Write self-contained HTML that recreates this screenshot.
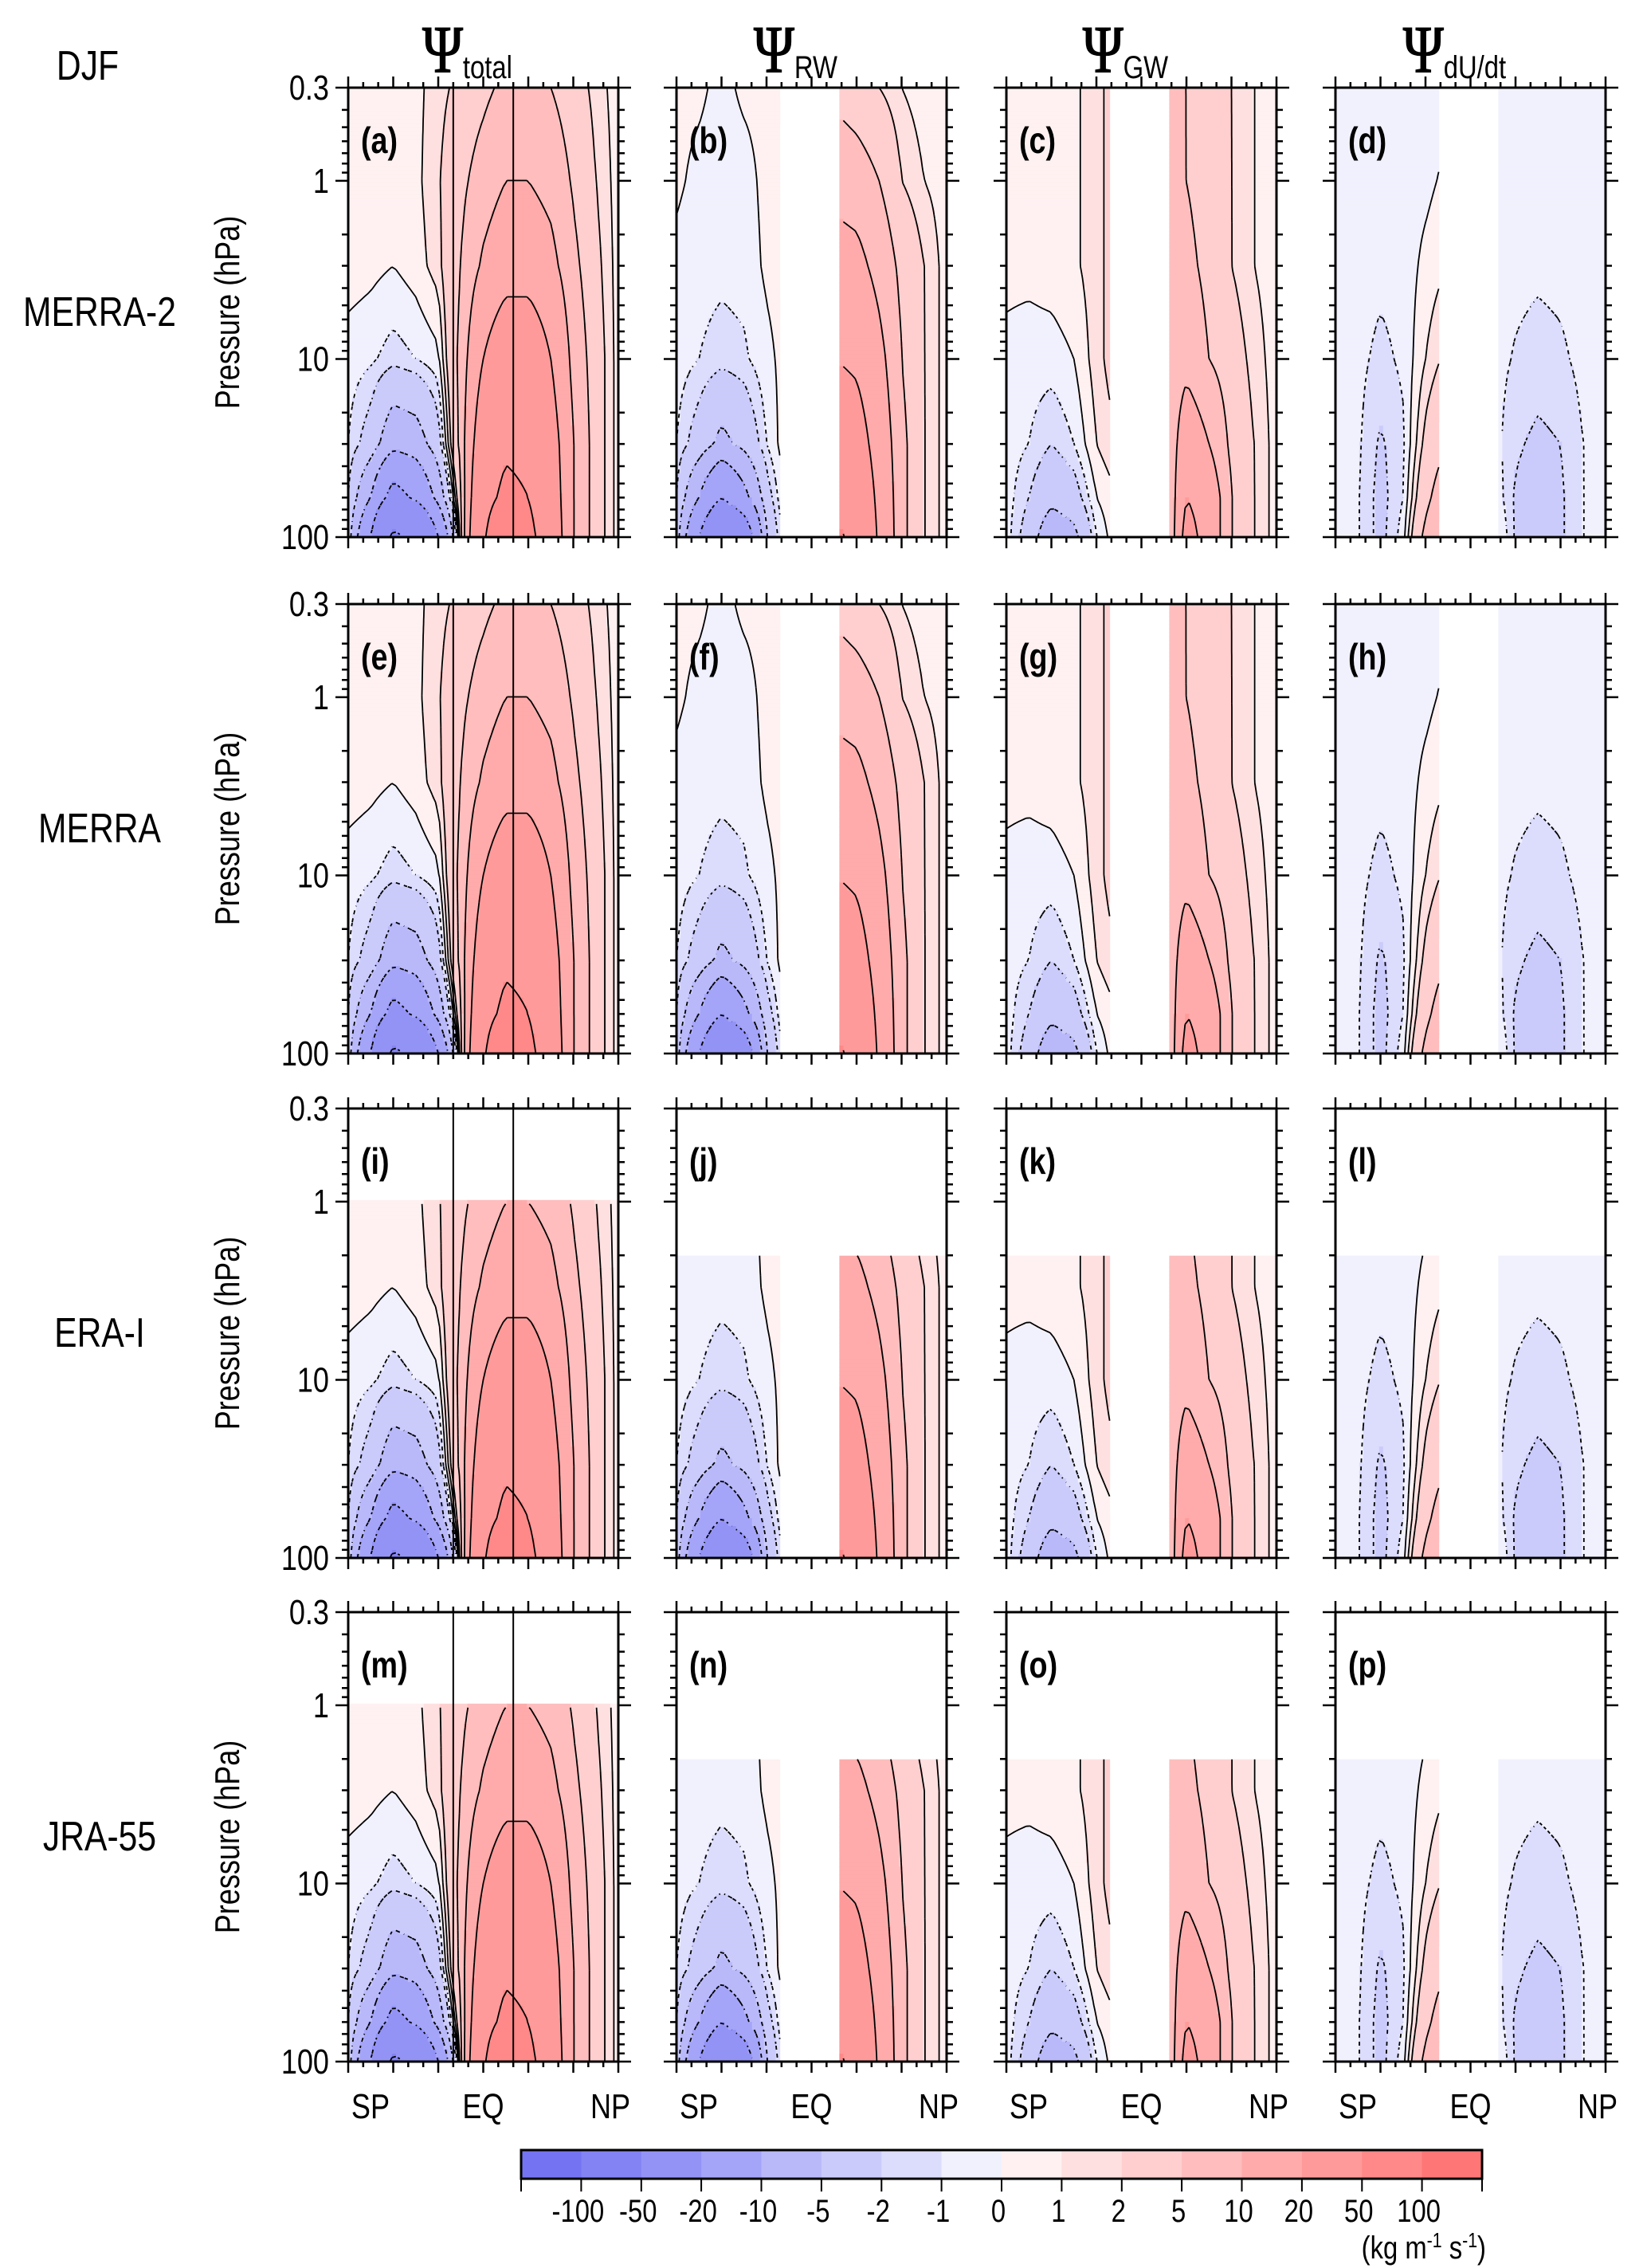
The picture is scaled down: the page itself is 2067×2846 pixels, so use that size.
<!DOCTYPE html>
<html><head><meta charset="utf-8"><title>Residual circulation DJF</title>
<style>
html,body{margin:0;padding:0;background:#fff;}
svg{display:block;font-family:"Liberation Sans",Arial,sans-serif;}
</style></head>
<body>
<svg id="fig" width="2067" height="2846" viewBox="0 0 2067 2846" xmlns="http://www.w3.org/2000/svg">
<g id="fills"></g><g id="lines"></g><g id="axes"></g><g id="labels"></g>
</svg>
<script>
// ---------- data ----------
const LAT=[-90,-75,-60,-45,-30,-15,0,15,30,45,60,75,90];
const PLEV=[0.3,1,3,10,30,60,100];
const psiTotal=[
[0.5,0.5,0.5,0.7,1.5,2.5,4,6,6,5,3,1.5,0.5],
[0.5,0.5,0.5,0.7,1.8,4,7,10,10,8,4.5,2,0.5],
[0.5,0.3,0,0.5,1.5,5,11,15,15,12,6,2.5,0.5],
[-0.5,-0.8,-1.5,-1,-0.3,6,20,30,30,20,8,3,0.5],
[-1,-3,-8,-7,-3,6,30,45,42,26,10,3,0.5],
[-2,-10,-25,-18,-8,4,38,58,50,28,10,3,0.5],
[-3,-20,-55,-45,-20,3,45,90,60,30,10,3,0.5]];
const psiRW=[
[0.3,0.2,-0.3,0.2,0.3,0.5,1,4,3,2,1,0.5,0.3],
[0.2,-0.3,-0.5,-0.4,0.3,0.5,1,8,7,5,2,1,0.5],
[-0.3,-0.6,-0.7,-0.6,0.2,0.5,1,13,12,8,4,2,0.5],
[-0.5,-1,-1.5,-1.2,-0.3,0.5,2,20,18,12,5,2,0.5],
[-1,-3,-6,-4,-1,1,3,30,26,15,6,2,0.5],
[-2,-10,-20,-12,-3,1,3,45,32,17,6,2,0.5],
[-3,-20,-40,-30,-5,1,3,60,38,18,6,2,0.5]];
const psiGW=[
[0.5,0.5,0.5,0.8,1.5,3,3,6,5,3,2,1,0.5],
[0.5,0.5,0.5,0.8,1.5,3,3,6,5,3.5,2,1,0.5],
[0.3,0.3,0.5,0.8,1.5,3,3,6,6,4,2,1,0.5],
[-0.3,-0.5,-0.5,0,1.5,3,3,6,8,5,3,1.5,0.5],
[-0.5,-1,-2,-1,1,2,3,3,15,10,4,2,0.5],
[-0.5,-2,-4,-3,0,1,3,0,20,15,5,2,0.5],
[-0.5,-3,-8,-6,-1,1,3,-3,25,15,5,2,0.5]];
const psiDUDT=[
[-0.5,-0.5,-0.5,-0.5,-0.5,-0.5,-0.5,-0.5,-0.5,-0.5,-0.5,-0.5,-0.5],
[-0.5,-0.5,-0.5,-0.5,-0.3,0.3,0.3,-0.5,-0.5,-0.5,-0.5,-0.5,-0.5],
[-0.5,-0.5,-0.7,-0.6,0.3,1,1,-0.6,-0.7,-0.8,-0.7,-0.5,-0.5],
[-0.5,-0.7,-1.3,-0.8,1,2.5,2.5,-0.6,-1.1,-1.4,-1.2,-0.7,-0.5],
[-0.5,-0.8,-2.2,-1.2,2.5,5,5,-0.5,-1.8,-2.3,-2,-1,-0.5],
[-0.5,-0.9,-2.5,-1,4,8,8,0,-2.2,-2.6,-2.2,-1,-0.5],
[-0.5,-0.9,-2.5,-0.5,6,10,10,1,-2.2,-2.6,-2.2,-1,-0.5]];
const FIELDS=[psiTotal,psiRW,psiGW,psiDUDT];
const ROWNAMES=['MERRA-2','MERRA','ERA-I','JRA-55'];
const PANELTAGS=['a','b','c','d','e','f','g','h','i','j','k','l','m','n','o','p'];
const TOPP=[[0.3,0.3,0.3,0.3],[0.3,0.3,0.3,0.3],[1,2,2,2],[1,2,2,2]];
const GAP=[-21,19];
const LEVELS=[-100,-50,-20,-10,-5,-2,-1,0,1,2,5,10,20,50,100];
const LEVEL_LABELS=['-100','-50','-20','-10','-5','-2','-1','0','1','2','5','10','20','50','100'];
const CONTOURS=[-50,-20,-10,-5,-2,-1,0,1,2,5,10,20,50,100];
const COLORS=['#7474f2','#8383f4','#9393f6','#a4a4f8','#b9b9fa','#cbcbfb','#dcdcfd','#f1f1fe',
 '#fff1f1','#ffe0e0','#ffcfcf','#ffbdbd','#ffabab','#ff9a9a','#ff8888','#ff7676'];
const HEADERS=[['Ψ','total'],['Ψ','RW'],['Ψ','GW'],['Ψ','dU/dt']];

// ---------- layout ----------
const COLX=[437,849,1263,1676], PW=339;
const ROWY=[110,758,1391,2023], PH=564;
const LOGR=Math.log(100/0.3);
const NS='http://www.w3.org/2000/svg';
function el(tag,attrs,parent){const e=document.createElementNS(NS,tag);for(const k in attrs)e.setAttribute(k,attrs[k]);if(parent)parent.appendChild(e);return e;}
const gF=document.getElementById('fills'),gL=document.getElementById('lines'),gA=document.getElementById('axes'),gT=document.getElementById('labels');
const SX=0.82;
function txt(x,y,s,size,anchor,parent,weight,name){
  const g=el('g',{transform:`scale(${SX},1)`},parent);
  const t=el('text',{x:x/SX,y:y,'font-size':size,'text-anchor':anchor||'middle','font-weight':weight||'normal',fill:'#000'},g);
  t.textContent=s;
  
  
  return t;
}
function xOf(c,lat){return COLX[c]+PW*(lat+90)/180;}
function yOf(r,p){return ROWY[r]+PH*Math.log(p/0.3)/LOGR;}
const LP=PLEV.map(Math.log);
function field(c,lat,p){
  const F=FIELDS[c];
  let i=Math.min(11,Math.max(0,Math.floor((lat+90)/15)));
  const tx=(lat-LAT[i])/15;
  const lp=Math.log(p);
  let j=0; while(j<5&&lp>LP[j+1])j++;
  const ty=Math.max(0,Math.min(1,(lp-LP[j])/(LP[j+1]-LP[j])));
  const a=F[j][i]*(1-tx)+F[j][i+1]*tx, b=F[j+1][i]*(1-tx)+F[j+1][i+1]*tx;
  return a*(1-ty)+b*ty;
}
function valid(r,c,lat,p){
  if(p<TOPP[r][c]-1e-9)return false;
  if(c>0&&lat>GAP[0]&&lat<GAP[1])return false;
  return true;
}
function levelIdx(v){let k=0;while(k<LEVELS.length&&v>LEVELS[k])k++;return k;}

for(let r=0;r<4;r++)for(let c=0;c<4;c++){
  const X0=COLX[c],Y0=ROWY[r];
  const pg=el('g',{},gF);
  
  
  const nx=68,ny=113,dx=PW/nx,dy=PH/ny;
  const latAt=x=>-90+180*(x-X0)/PW, pAt=y=>0.3*Math.exp(LOGR*(y-Y0)/PH);
  for(let j=0;j<ny;j++){
    const yc=Y0+(j+0.5)*dy,p=pAt(yc);
    let run=null;
    for(let i=0;i<=nx;i++){
      let k=-1;
      if(i<nx){const la=latAt(X0+(i+0.5)*dx); if(valid(r,c,la,p))k=levelIdx(field(c,la,p));}
      if(run&&run.k===k){run.n++;continue;}
      if(run&&run.k>=0){
        const rc=el('rect',{x:(X0+run.i*dx).toFixed(1),y:(Y0+j*dy).toFixed(1),width:(run.n*dx+0.6).toFixed(1),height:(dy+0.6).toFixed(1),fill:COLORS[run.k]},pg);
        
        
      }
      run={k:k,i:i,n:1};
    }
  }
  const V=[];
  for(let j=0;j<=ny;j++){V.push([]);const p=pAt(Y0+j*dy);
    for(let i=0;i<=nx;i++){const la=latAt(X0+i*dx);V[j].push(valid(r,c,la,p*1.0001)||valid(r,c,la,p)?field(c,la,p):NaN);}}
  let solid='',dash='';
  for(const L of CONTOURS){
    for(let j=0;j<ny;j++)for(let i=0;i<nx;i++){
      const a=V[j][i],b=V[j][i+1],d=V[j+1][i],e=V[j+1][i+1];
      if(isNaN(a)||isNaN(b)||isNaN(d)||isNaN(e))continue;
      const pts=[];
      const edge=(v1,v2,x1,y1,x2,y2)=>{if((v1<L)!==(v2<L)){const t=(L-v1)/(v2-v1);pts.push([x1+(x2-x1)*t,y1+(y2-y1)*t]);}};
      const x0=X0+i*dx,y0=Y0+j*dy,x1=x0+dx,y1=y0+dy;
      edge(a,b,x0,y0,x1,y0);edge(b,e,x1,y0,x1,y1);edge(e,d,x1,y1,x0,y1);edge(d,a,x0,y1,x0,y0);
      if(pts.length<2)continue;
      let s='';
      for(let q=0;q+1<pts.length;q+=2)s+=`M${pts[q][0].toFixed(1)} ${pts[q][1].toFixed(1)}L${pts[q+1][0].toFixed(1)} ${pts[q+1][1].toFixed(1)}`;
      if(L<0){if((i+j)%2===0)dash+=s;}else solid+=s;
    }
  }
  const ps=el('path',{d:solid,stroke:'#000','stroke-width':1.8,fill:'none'},gL);
  
  
  const pd=el('path',{d:dash,stroke:'#000','stroke-width':1.8,fill:'none'},gL);
  
  
  if(c===0){for(const la of [-20,20]){
    const vl=el('line',{x1:xOf(c,la),x2:xOf(c,la),y1:Y0,y2:Y0+PH,stroke:'#000','stroke-width':2},gL);
    
    }}
  const fr=el('rect',{x:X0,y:Y0,width:PW,height:PH,fill:'none',stroke:'#000','stroke-width':3},gA);
  
  
  let tk='';
  for(let la=-90;la<=90;la+=10){const x=xOf(c,la),L=(la%30===0)?14:7;
    tk+=`M${x} ${Y0}v${-L}M${x} ${Y0+PH}v${L}`;}
  const pt=[0.3,0.4,0.5,0.6,0.7,0.8,0.9,1,2,3,4,5,6,7,8,9,10,20,30,40,50,60,70,80,90,100];
  for(const p of pt){const y=yOf(r,p),L=[0.3,1,10,100].includes(p)?16:8;
    tk+=`M${X0} ${y}h${-L}M${X0+PW} ${y}h${L}`;}
  const tp=el('path',{d:tk,stroke:'#000','stroke-width':2.5,fill:'none'},gA);
  
  
  txt(X0+16,Y0+82,'('+PANELTAGS[r*4+c]+')',46,'start',gT,'bold','panel-label');
  if(c===0){
    for(const [p,s] of [[0.3,'0.3'],[1,'1'],[10,'10'],[100,'100']])
      txt(X0-24,yOf(r,p)+15,s,44,'end',gT,'normal','y-tick-label');
    const g=el('g',{transform:`translate(300,${Y0+PH/2}) rotate(-90) scale(${SX},1)`},gT);
    const t=el('text',{x:0,y:0,'font-size':44,'text-anchor':'middle'},g);
    t.textContent='Pressure (hPa)';
    
    
    txt(125,Y0+PH/2+17,ROWNAMES[r],52,'middle',gT,'normal','row-label');
  }
  if(r===3){
    txt(X0+28,2658,'SP',44,'middle',gT,'normal','x-tick-label');
    txt(X0+PW/2,2658,'EQ',44,'middle',gT,'normal','x-tick-label');
    txt(X0+PW-10,2658,'NP',44,'middle',gT,'normal','x-tick-label');
  }
}
txt(110,100,'DJF',52,'middle',gT,'normal','season-label');
for(let c=0;c<4;c++){
  const cx=COLX[c]+PW/2-20;
  const g=el('g',{transform:`scale(${SX},1)`},gT);
  const t=el('text',{x:cx/SX,y:90,'font-size':84,'text-anchor':'middle','font-family':'"Liberation Serif",serif'},g);
  
  
  const a=el('tspan',{stroke:'#000','stroke-width':1.5},t);a.textContent=HEADERS[c][0];
  const b=el('tspan',{'font-size':40,dy:8,'font-family':'"Liberation Sans",sans-serif'},t);b.textContent=HEADERS[c][1];
}
const CBX=654,CBW=1206,CBY=2698,CBH=36,bw=CBW/16;
for(let k=0;k<16;k++){
  const rc=el('rect',{x:(CBX+k*bw).toFixed(1),y:CBY,width:(bw+0.5).toFixed(1),height:CBH,fill:COLORS[k]},gA);
  
  
}
const cbf=el('rect',{x:CBX,y:CBY,width:CBW,height:CBH,fill:'none',stroke:'#000','stroke-width':3},gA);


let cbt='';for(let k=0;k<=16;k++){const x=CBX+k*bw;cbt+=`M${x.toFixed(1)} ${CBY+CBH}v16`;}
const cbp=el('path',{d:cbt,stroke:'#000','stroke-width':2},gA);


for(let k=0;k<LEVEL_LABELS.length;k++)
  txt(CBX+(k+1)*bw-4,2788,LEVEL_LABELS[k],40,'middle',gT,'normal','colorbar-label');
{
  const g=el('g',{transform:`scale(${SX},1)`},gT);
  const t=el('text',{x:1865/SX,y:2834,'font-size':40,'text-anchor':'end'},g);
  
  
  const parts=[['(kg m',0,40],['-1',-14,26],[' s',14,40],['-1',-14,26],[')',14,40]];
  for(const [s,dy,fs] of parts){const sp=el('tspan',{dy:dy,'font-size':fs},t);sp.textContent=s;}
}
</script>
</body></html>
